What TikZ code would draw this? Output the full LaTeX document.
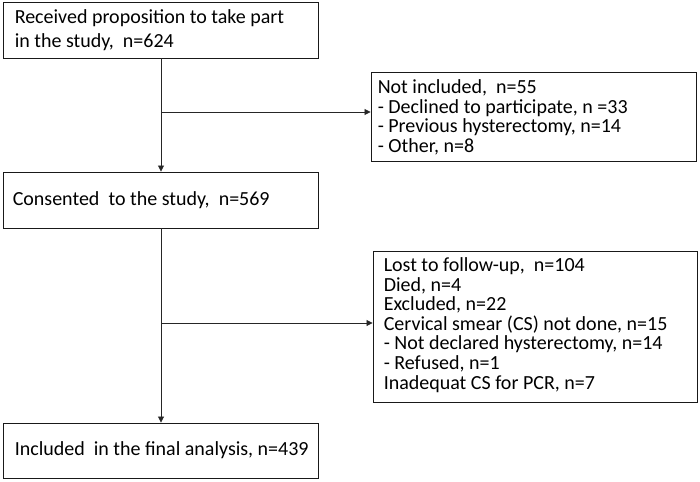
\documentclass[tikz,border=0pt]{standalone}
\usepackage{fontspec}
\setmainfont{Carlito}
\usetikzlibrary{arrows.meta}
\begin{document}
\begin{tikzpicture}[x=1pt,y=-1pt,
  frame/.style={draw=black!90, line width=0.9pt, rectangle, inner sep=0pt},
  txt/.style={anchor=west, align=left, inner sep=0pt},
  conn/.style={draw=black!85, line width=0.8pt},
  arr/.style={conn, -{Triangle[length=6pt,width=6pt]}}]
\useasboundingbox (0,0) rectangle (700,481);
\node[frame, minimum width=315pt, minimum height=56pt] (b1) at (160.5,30) {};
\node[frame, minimum width=315pt, minimum height=56pt] (b2) at (160.5,200) {};
\node[frame, minimum width=315pt, minimum height=55pt] (b3) at (160.5,450.5) {};
\node[frame, minimum width=325pt, minimum height=89pt] (ni) at (533.5,116.5) {};
\node[frame, minimum width=324pt, minimum height=151pt] (lost) at (535,326.5) {};
\node[txt, font=\fontsize{20}{24}\selectfont] (b1t) at ([xshift=12pt]b1.west)
  {Received proposition to take part\\in the study,\ \ n=624};
\node[txt, font=\fontsize{20}{24}\selectfont] (b2t) at ([xshift=10pt]b2.west)
  {Consented\ \ to the study,\ \ n=569};
\node[txt, font=\fontsize{20}{24}\selectfont] (b3t) at ([xshift=12pt]b3.west)
  {Included\ \ in the final analysis, n=439};
\node[txt, font=\fontsize{20}{19.6}\selectfont] (nit) at ([xshift=7pt,yshift=-1pt]ni.west)
  {Not included,\ \ n=55\\- Declined to participate, n =33\\- Previous hysterectomy, n=14\\- Other, n=8};
\node[txt, font=\fontsize{20}{19.6}\selectfont] (lostt) at ([xshift=11pt,yshift=1.5pt]lost.west)
  {Lost to follow-up,\ \ n=104\\Died, n=4\\Excluded, n=22\\Cervical smear (CS) not done, n=15\\- Not declared hysterectomy, n=14\\- Refused, n=1\\Inadequat CS for PCR, n=7};
\coordinate (j1) at (161,112);
\coordinate (j2) at (161,323);
\draw[arr] (b1.south -| j1) -- (b2.north -| j1);
\draw[arr] (j1) -- (j1 -| ni.west);
\draw[arr] (b2.south -| j2) -- (b3.north -| j2);
\draw[arr] (j2) -- (j2 -| lost.west);
\end{tikzpicture}
\end{document}
